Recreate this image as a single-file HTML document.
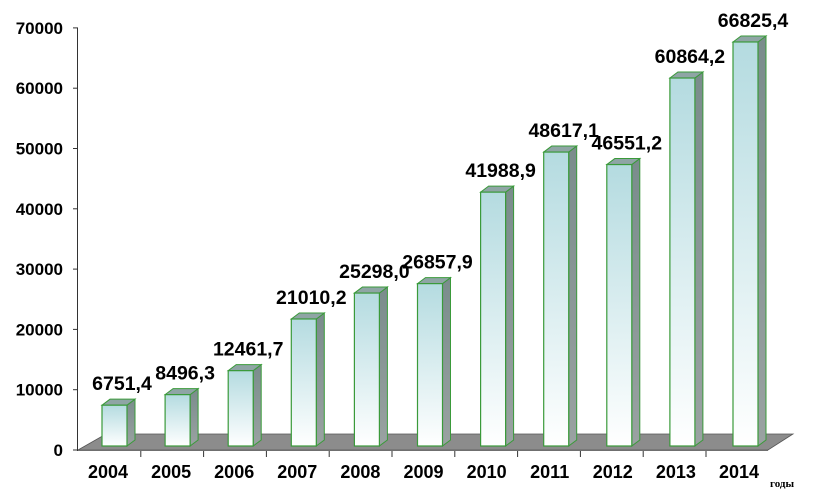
<!DOCTYPE html>
<html><head><meta charset="utf-8"><style>
html,body{margin:0;padding:0;background:#fff;}
svg{display:block;font-family:"Liberation Sans",Arial,sans-serif;}
</style></head><body>
<svg id="c" width="820" height="492" viewBox="0 0 820 492" xmlns="http://www.w3.org/2000/svg">
<defs>
<linearGradient id="fg" x1="0" y1="0" x2="0" y2="1">
<stop offset="0" stop-color="#b4dbe0"/><stop offset="1" stop-color="#ffffff"/>
</linearGradient>
<linearGradient id="sg" x1="0" y1="0" x2="0" y2="1">
<stop offset="0" stop-color="#7a8c8c"/><stop offset="1" stop-color="#9aa2a2"/>
</linearGradient>
</defs>
<polygon points="78,450 106,434 793,434 768,450" fill="#8c8c8c" stroke="#555" stroke-width="0.8"/>
<line x1="77.5" y1="28" x2="77.5" y2="451" stroke="#333" stroke-width="1"/>
<g id="ax" font-size="17" font-weight="bold" text-anchor="end" fill="#000"></g>
<g id="bars"></g>
<text x="770" y="487" font-family="Liberation Serif,serif" font-size="11" font-weight="bold">годы</text>
</svg>
<script>
var ns="http://www.w3.org/2000/svg",svg=document.getElementById('c');
function el(t,a,p,txt){var e=document.createElementNS(ns,t);for(var k in a)e.setAttribute(k,a[k]);if(txt!==undefined)e.textContent=txt;(p||svg).appendChild(e);return e;}
var ax=document.getElementById('ax');
for(var i=0;i<=7;i++){var y=450-i*60.3;
el('text',{x:63,y:y+6},ax,String(i*10000));
el('line',{x1:73,y1:y,x2:78,y2:y,stroke:'#333','stroke-width':1});}
el('line',{x1:78,y1:450.5,x2:768,y2:450.5,stroke:'#555','stroke-width':0.8});
for(var i=1;i<=10;i++){var x=78+i*62.8;el('line',{x1:x,y1:451,x2:x,y2:457,stroke:'#333','stroke-width':1});}
var vals=[6751.4,8496.3,12461.7,21010.2,25298.0,26857.9,41988.9,48617.1,46551.2,60864.2,66825.4];
var labs=["6751,4","8496,3","12461,7","21010,2","25298,0","26857,9","41988,9","48617,1","46551,2","60864,2","66825,4"];
var g=document.getElementById('bars');
for(var i=0;i<11;i++){
var x0=102+63.1*i,w=25,b=446,t=b-vals[i]*0.006046,dx=8,dy=6;
el('polygon',{points:[x0+w,b, x0+w+dx,b-dy, x0+w+dx,t-dy, x0+w,t].join(' '),fill:'url(#sg)',stroke:'#3a9a3a','stroke-width':1},g);
el('polygon',{points:[x0,t, x0+dx,t-dy, x0+w+dx,t-dy, x0+w,t].join(' '),fill:'#8fa5a5',stroke:'#3a9a3a','stroke-width':1},g);
el('rect',{x:x0,y:t,width:w,height:b-t,fill:'url(#fg)',stroke:'#3a9a3a','stroke-width':1.2},g);
el('text',{x:x0+20,y:t-15,'font-size':19.5,'font-weight':'bold','text-anchor':'middle'},g,labs[i]);
el('text',{x:x0+6,y:478,'font-size':18,'font-weight':'bold','text-anchor':'middle'},g,String(2004+i));
}
</script>
</body></html>
